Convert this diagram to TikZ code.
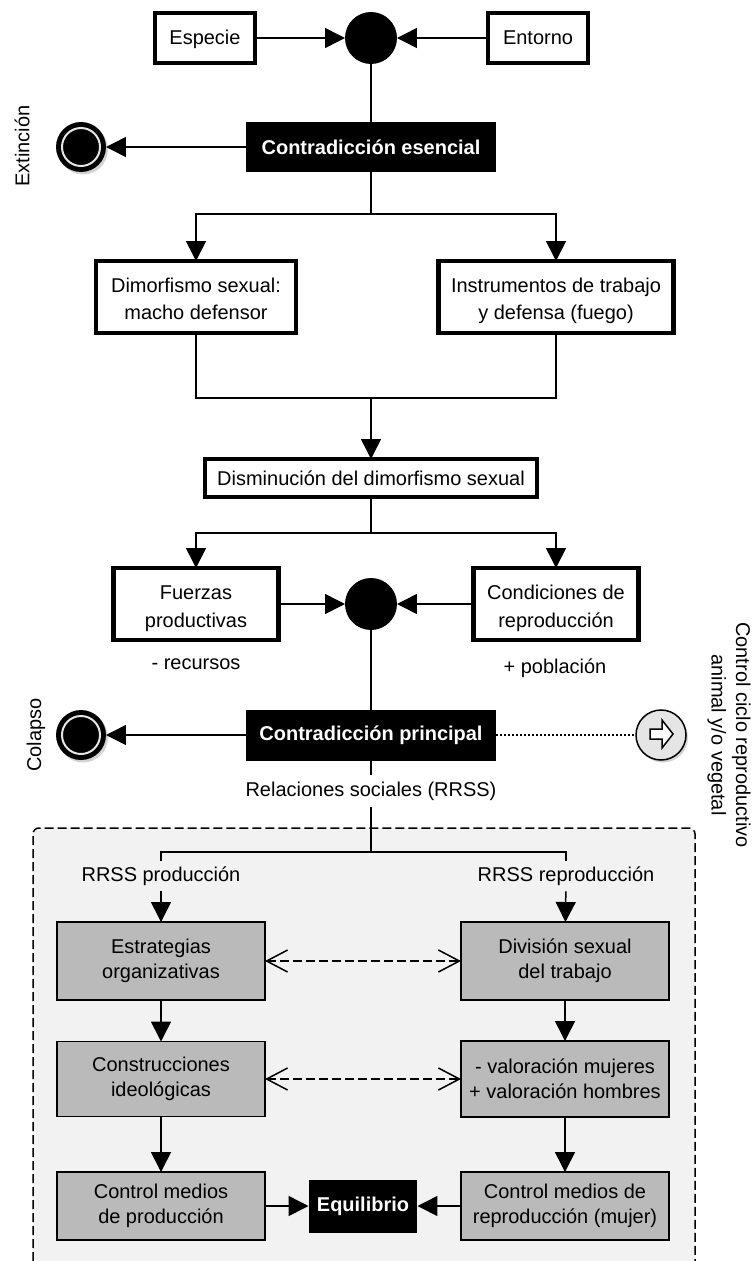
\documentclass[tikz,border=0pt]{standalone}
\usepackage{fontspec}
\setmainfont{Liberation Sans}
\usetikzlibrary{arrows.meta,shadows}
\tikzset{
	flecha/.style={line width=0.03cm, -{Triangle[length=0.4cm, width=0.4cm]}},
	linea/.style={line width=0.03cm},
	abierta/.style={line width=0.03cm, dash pattern=on 0.18cm off 0.08cm, {Straight Barb[length=0.42cm, width=0.44cm]}-{Straight Barb[length=0.42cm, width=0.44cm]}},
	caja/.style={draw=black, fill=white, line width=0.09cm, inner sep=0, outer sep=0, align=center, font=\fontsize{11.37}{15.4}\selectfont},
	cajados/.style={caja, minimum height=1.44cm, text height=1cm, text depth=0.08cm},
	cajauno/.style={caja, minimum width=2.0cm, minimum height=1.0cm, text height=0.28cm, text depth=0cm},
	negra/.style={fill=black, text=white, inner sep=0, outer sep=0, align=center, font=\fontsize{11.37}{14}\selectfont\bfseries},
	gris/.style={draw=black, fill=black!27, line width=0.03cm, inner sep=0, outer sep=0, align=center, font=\fontsize{11.37}{14.2}\selectfont},
	union/.style={circle, fill=black, minimum size=1.04cm, inner sep=0, outer sep=0},
	fin/.style={circle, fill=black, minimum size=1cm, inner sep=0, outer sep=0, drop shadow={shadow xshift=0.04cm, shadow yshift=-0.05cm, opacity=0.35}},
	texto/.style={inner sep=0, align=center, font=\fontsize{11.37}{14}\selectfont}
}
\begin{document}
\begin{tikzpicture}[x=0.02cm, y=-0.02cm]
	%%%%% START %%%%%
	\useasboundingbox (0, 0) rectangle (753, 1261);
	
	% zona de relaciones sociales
	\fill[black!5, rounded corners=0.12cm] (33, 1261) -- (33, 828) -- (695, 828) -- (695, 1261) -- cycle;
	\draw[line width=0.03cm, dash pattern=on 0.18cm off 0.08cm, rounded corners=0.12cm] (33, 1261) -- (33, 828) -- (695, 828) -- (695, 1261);
	
	\node[cajauno] (especie) at (205, 38) {Especie};
	\node[cajauno] (entorno) at (538, 38) {Entorno};
	\node[union] (union1) at (371, 38) {};
	\node[negra, minimum width=5.02cm, minimum height=1.02cm] (contra1) at (371, 147) {Contradicción esencial};
	\node[fin] (fin1) at (81, 147) {};
	\node[texto, rotate=90] (extincion) at (22, 146) {Extinción};
	
	\coordinate (ramal1) at (371, 214);
	\node[cajados, minimum width=4.0cm] (dimorf) at (196, 297) {Dimorfismo sexual:\\macho defensor};
	\node[cajados, minimum width=4.7cm] (instr) at (556, 297) {Instrumentos de trabajo\\y defensa (fuego)};
	
	\coordinate (ramal2) at (371, 398);
	\node[caja, minimum width=6.64cm, minimum height=0.76cm] (dismin) at (371, 478) {Disminución del dimorfismo sexual};
	
	\coordinate (ramal3) at (371, 533);
	\node[cajados, minimum width=3.3cm] (fuerzas) at (196, 604) {Fuerzas\\productivas};
	\node[cajados, minimum width=3.3cm] (condic) at (556, 604) {Condiciones de\\reproducción};
	\node[union] (union2) at (371, 604) {};
	\node[texto] (recursos) at (196, 664) {- recursos};
	\node[texto] (poblacion) at (555, 668) {+ población};
	
	\node[negra, minimum width=5.02cm, minimum height=1.02cm] (contra2) at (371, 735) {Contradicción principal};
	\node[fin] (fin2) at (81, 735) {};
	\node[texto, rotate=90] (colapso) at (36, 735) {Colapso};
	\node[circle, draw=black, fill=black!10, line width=0.03cm, minimum size=1cm, inner sep=0, outer sep=0, drop shadow={shadow xshift=0.04cm, shadow yshift=-0.05cm, opacity=0.35}] (control) at (661, 735) {};
	\node[texto, rotate=-90] (ciclo) at (729, 735) {Control ciclo reproductivo\\animal y/o vegetal};
	\node[texto, outer sep=0.14cm] (rrss) at (371, 791) {Relaciones sociales (RRSS)};
	
	\coordinate (ramal4) at (371, 852);
	\node[texto, outer sep=0.12cm] (rrssprod) at (161, 876) {RRSS producción};
	\node[texto, outer sep=0.12cm] (rrssrepr) at (566, 876) {RRSS reproducción};
	
	\node[gris, minimum width=4.16cm, minimum height=1.56cm] (estrat) at (161, 961) {Estrategias\\organizativas};
	\node[gris, minimum width=4.16cm, minimum height=1.56cm] (division) at (565, 961) {División sexual\\del trabajo};
	\node[gris, minimum width=4.16cm, minimum height=1.5cm] (constr) at (161, 1079) {Construcciones\\ideológicas};
	\node[gris, minimum width=4.16cm, minimum height=1.52cm] (valor) at (565, 1079) {- valoración mujeres\\+ valoración hombres};
	\node[gris, minimum width=4.16cm, minimum height=1.36cm] (medprod) at (161, 1206) {Control medios\\de producción};
	\node[gris, minimum width=4.16cm, minimum height=1.36cm] (medrepr) at (565, 1206) {Control medios de\\reproducción (mujer)};
	\node[negra, minimum width=2.18cm, minimum height=1.06cm] (equil) at (363, 1206) {Equilibrio};
	
	\draw[flecha] (especie) -- (union1);
	\draw[flecha] (entorno) -- (union1);
	\draw[linea] (union1) -- (contra1);
	\draw[flecha] (contra1) -- (fin1);
	\draw[linea] (contra1) -- (ramal1);
	\draw[flecha] (ramal1) -| (dimorf);
	\draw[flecha] (ramal1) -| (instr);
	\draw[linea] (dimorf) |- (ramal2);
	\draw[linea] (instr) |- (ramal2);
	\draw[flecha] (ramal2) -- (dismin);
	\draw[linea] (dismin) -- (ramal3);
	\draw[flecha] (ramal3) -| (fuerzas);
	\draw[flecha] (ramal3) -| (condic);
	\draw[flecha] (fuerzas) -- (union2);
	\draw[flecha] (condic) -- (union2);
	\draw[linea] (union2) -- (contra2);
	\draw[flecha] (contra2) -- (fin2);
	\draw[line width=0.03cm, dash pattern=on 0.03cm off 0.05cm] (contra2) -- (control);
	\draw[linea] (contra2) -- (rrss);
	\draw[linea] (rrss) -- (ramal4);
	\draw[linea] (ramal4) -| (rrssprod);
	\draw[linea] (ramal4) -| (rrssrepr);
	\draw[flecha] (rrssprod) -- (estrat);
	\draw[flecha] (rrssrepr) -- (division);
	\draw[flecha] (estrat) -- (constr);
	\draw[flecha] (division) -- (valor);
	\draw[flecha] (constr) -- (medprod);
	\draw[flecha] (valor) -- (medrepr);
	\draw[flecha] (medprod) -- (equil);
	\draw[flecha] (medrepr) -- (equil);
	\draw[abierta] (estrat) -- (division);
	\draw[abierta] (constr) -- (valor);
	
	% anillos y flecha del circulo
	\draw[line width=0.04cm, color=black!10] (fin1) circle (19);
	\draw[line width=0.04cm, color=black!10] (fin2) circle (19);
	\draw[line width=0.03cm, fill=white] (650, 729) -- (662, 729) -- (662, 720) -- (673, 734) -- (662, 748) -- (662, 739) -- (650, 739) -- cycle;
	
	%%%%% END %%%%%
\end{tikzpicture}
\end{document}
